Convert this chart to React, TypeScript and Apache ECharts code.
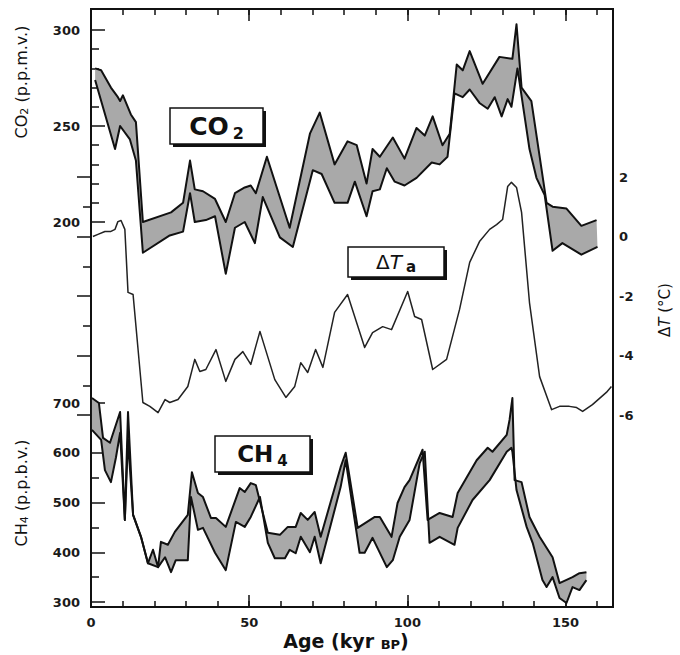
import React, { useEffect, useRef } from 'react';
import * as echarts from 'echarts';

// Age (kyr BP) axis
const ageMin = 0;
const ageMax = 165;

// CO2 envelope (p.p.m.v.): [age, value]
const co2Upper: number[][] = [
  [1.3, 280], [3.2, 279], [6.3, 270], [8.5, 265], [9.2, 263], [10.1, 266], [12.6, 256], [14.2, 252],
  [16.4, 200], [25.3, 205], [29.1, 210], [31.3, 232], [32.8, 217], [35.4, 216], [39.2, 212], [42.6, 200],
  [45.5, 215], [48.6, 218], [50.5, 219], [52.1, 215], [55.6, 234], [62.8, 197], [69.2, 246], [72.3, 257],
  [77.0, 230], [81.1, 242], [84.0, 240], [87.1, 220], [89.0, 238], [91.3, 234], [95.4, 244], [99.1, 233],
  [102.9, 249], [105.5, 245], [108.0, 255], [111.1, 240], [113.4, 246], [115.6, 282], [117.5, 279],
  [119.7, 289], [123.8, 272], [129.1, 286], [133.2, 285], [134.5, 303], [136.1, 270], [139.2, 263],
  [144.0, 210], [145.9, 208], [150.3, 207], [155.0, 198], [159.8, 201],
];
const co2Lower: number[][] = [
  [1.3, 274], [7.6, 238], [9.2, 250], [12.3, 243], [14.2, 232], [16.4, 184], [24.9, 193], [29.1, 195],
  [31.3, 215], [32.8, 200], [36.3, 201], [39.2, 203], [42.6, 173], [45.5, 197], [48.6, 200], [51.8, 189],
  [54.3, 213], [59.7, 192], [63.8, 187], [70.1, 227], [72.9, 225], [77.0, 210], [81.1, 210], [83.4, 221],
  [87.1, 203], [89.0, 216], [91.3, 217], [93.5, 228], [96.0, 221], [99.1, 219], [102.9, 223], [107.7, 231],
  [110.2, 230], [112.7, 234], [114.9, 267], [117.5, 265], [119.7, 269], [122.8, 262], [125.4, 259],
  [127.6, 265], [129.8, 255], [131.7, 264], [132.9, 260], [134.8, 280], [138.6, 238], [140.8, 223],
  [143.4, 214], [145.9, 185], [149.0, 189], [155.0, 183], [160.1, 187],
];

// Temperature change ΔT (°C): [age, value]
const tempDelta: number[][] = [
  [0.6, 0.0], [2.2, 0.07], [4.4, 0.17], [6.3, 0.17], [7.6, 0.24], [8.5, 0.5], [9.5, 0.54], [10.7, 0.24],
  [11.7, -1.88], [13.3, -1.95], [16.4, -5.58], [18.6, -5.71], [21.2, -5.92], [23.4, -5.48], [24.9, -5.58],
  [27.5, -5.48], [30.6, -5.04], [32.8, -4.13], [34.4, -4.54], [36.3, -4.47], [39.5, -3.8], [42.6, -4.87],
  [45.5, -4.13], [48.0, -3.87], [50.5, -4.3], [53.4, -3.19], [58.1, -4.81], [61.6, -5.41], [64.4, -5.04],
  [66.3, -4.24], [68.5, -4.57], [71.0, -3.8], [73.3, -4.4], [77.0, -2.55], [81.1, -1.95], [86.5, -3.73],
  [89.0, -3.23], [92.2, -3.03], [95.0, -3.13], [100.1, -1.85], [102.3, -2.69], [104.5, -2.79],
  [108.0, -4.47], [112.4, -4.13], [116.5, -2.45], [119.7, -0.87], [122.8, -0.17], [126.0, 0.24],
  [128.2, 0.4], [130.1, 0.57], [131.7, 1.68], [132.9, 1.82], [134.5, 1.65], [136.1, 0.81], [138.6, -2.22],
  [141.8, -4.71], [145.6, -5.82], [148.1, -5.71], [151.2, -5.71], [153.5, -5.75], [155.4, -5.88],
  [158.5, -5.65], [162.9, -5.24], [164.5, -5.04],
];

// CH4 envelope (p.p.b.v.): [age, value]
const ch4Upper: number[][] = [
  [0.3, 710], [2.5, 700], [3.8, 630], [6.0, 620], [9.2, 682], [10.7, 465], [11.7, 682], [13.3, 475],
  [15.8, 431], [18.0, 378], [19.6, 405], [21.2, 370], [22.1, 421], [24.3, 415], [26.5, 441], [30.6, 475],
  [31.9, 561], [33.8, 519], [35.4, 511], [37.9, 469], [39.5, 469], [42.6, 451], [47.0, 529], [48.6, 521],
  [50.5, 539], [52.1, 535], [55.9, 439], [59.7, 435], [62.2, 451], [64.7, 451], [66.3, 479], [68.5, 465],
  [70.7, 481], [72.6, 431], [78.9, 571], [80.5, 600], [84.3, 449], [89.7, 471], [91.3, 471], [95.0, 431],
  [96.9, 499], [99.1, 531], [100.7, 545], [104.8, 606], [106.4, 465], [110.2, 479], [114.3, 471],
  [115.9, 519], [121.9, 585], [125.4, 610], [126.9, 602], [131.4, 636], [132.3, 666], [133.2, 710],
  [133.9, 545], [136.1, 541], [138.6, 471], [141.8, 431], [145.9, 390], [148.1, 338], [152.2, 350],
  [154.4, 358], [156.6, 360],
];
const ch4Lower: number[][] = [
  [0.3, 646], [3.2, 626], [4.4, 565], [6.3, 541], [7.9, 591], [9.2, 640], [10.7, 465], [11.7, 626],
  [13.3, 475], [15.8, 431], [18.0, 378], [21.2, 370], [23.4, 390], [25.3, 360], [26.8, 384], [30.6, 384],
  [31.6, 511], [33.8, 445], [35.4, 449], [39.2, 399], [42.6, 364], [45.8, 461], [48.6, 451], [50.5, 471],
  [53.4, 511], [55.9, 419], [58.1, 388], [61.3, 388], [62.8, 405], [64.7, 398], [66.3, 431], [69.2, 400],
  [70.7, 431], [72.6, 378], [78.9, 531], [80.5, 585], [84.9, 399], [86.5, 399], [89.0, 429], [93.5, 370],
  [95.4, 384], [97.6, 431], [100.7, 465], [103.9, 579], [105.5, 602], [107.0, 419], [110.2, 431],
  [114.9, 415], [115.9, 449], [120.6, 505], [126.0, 545], [131.4, 602], [132.9, 610], [133.2, 602],
  [134.5, 525], [137.7, 451], [139.6, 419], [142.7, 344], [144.0, 330], [145.9, 350], [148.1, 308],
  [150.3, 298], [152.2, 330], [154.4, 324], [156.6, 344],
];

const INK = '#111';
const FONT = 'DejaVu Sans';

const tickLine = { color: INK, width: 1.5 };

function bandSeries(upper: number[][], lower: number[][], xi: number, yi: number) {
  return {
    type: 'custom',
    xAxisIndex: xi,
    yAxisIndex: yi,
    clip: false,
    silent: true,
    z: 1,
    data: [upper[0]],
    renderItem: (_params: any, api: any) => {
      const pts = upper
        .map((p) => api.coord(p))
        .concat(lower.slice().reverse().map((p) => api.coord(p)));
      return {
        type: 'polygon',
        shape: { points: pts },
        style: { fill: '#a9a9a9', stroke: 'none' },
      };
    },
  };
}

function lineSeries(data: number[][], xi: number, yi: number, width: number, color = INK) {
  return {
    type: 'line',
    xAxisIndex: xi,
    yAxisIndex: yi,
    data,
    symbol: 'none',
    clip: false,
    silent: true,
    z: 3,
    lineStyle: { color, width, join: 'round' },
  };
}

const hiddenX = (gridIndex: number) => ({
  type: 'value',
  gridIndex,
  min: ageMin,
  max: ageMax,
  show: false,
});

const labelStyle = { fontFamily: FONT, fontSize: 13, fontWeight: 'bold', color: '#1a1a1a' };

function frameX(position: string, interval: number, len: number, labels: boolean) {
  return {
    type: 'value',
    gridIndex: 0,
    position,
    min: ageMin,
    max: ageMax,
    interval,
    axisLine: { show: false },
    splitLine: { show: false },
    axisTick: { show: true, inside: true, length: len, lineStyle: tickLine },
    axisLabel: labels
      ? { show: true, showMaxLabel: false, margin: 9, ...labelStyle }
      : { show: false },
  };
}

function valueY(
  gridIndex: number,
  position: string,
  min: number,
  max: number,
  interval: number,
  minorSplit: number,
  margin: number,
) {
  return {
    type: 'value',
    gridIndex,
    position,
    min,
    max,
    interval,
    axisLine: { show: false },
    splitLine: { show: false },
    axisTick: { show: true, inside: true, length: 14, lineStyle: tickLine },
    minorTick: { show: true, splitNumber: minorSplit, length: 8, lineStyle: tickLine },
    axisLabel: { show: true, margin, ...labelStyle },
  };
}

function labelBox(x: number, y: number, w: number, h: number, text: string, rich: any, font: string) {
  return [
    { type: 'rect', shape: { x: x + 3, y: y + 3, width: w, height: h }, style: { fill: INK }, z: 10 },
    {
      type: 'rect',
      shape: { x, y, width: w, height: h },
      style: { fill: '#fff', stroke: INK, lineWidth: 1.5 },
      z: 11,
    },
    {
      type: 'text',
      x: x + w / 2,
      y: y + h / 2,
      z: 12,
      style: {
        text,
        font,
        fill: INK,
        align: 'center',
        verticalAlign: 'middle',
        rich,
      },
    },
  ];
}

export default function App() {
  const ref = useRef<HTMLDivElement>(null);

  useEffect(() => {
    document.body.style.margin = '0';
    const chart = echarts.init(ref.current!, null, { renderer: 'svg' });

    const L = 91;
    const W = 522;

    const option: any = {
      animation: false,
      grid: [
        { left: L, width: W, top: 9, height: 598, show: true, borderColor: INK, borderWidth: 2, backgroundColor: 'transparent' },
        { left: L, width: W, top: 30, height: 192 },
        { left: L, width: W, top: 177, height: 238 },
        { left: L, width: W, top: 403, height: 199 },
      ],
      xAxis: [
        frameX('bottom', 10, 6, false),
        frameX('bottom', 50, 12, true),
        frameX('top', 10, 6, false),
        frameX('top', 50, 12, false),
        hiddenX(1),
        hiddenX(2),
        hiddenX(3),
      ],
      yAxis: [
        { type: 'value', gridIndex: 0, min: 0, max: 1, show: false },
        valueY(1, 'left', 200, 300, 50, 5, 11),
        valueY(2, 'right', -6, 2, 2, 2, 6),
        valueY(3, 'left', 300, 700, 100, 2, 11),
      ],
      series: [
        bandSeries(co2Upper, co2Lower, 4, 1),
        lineSeries(co2Upper, 4, 1, 2),
        lineSeries(co2Lower, 4, 1, 2),
        lineSeries(tempDelta, 5, 2, 1.5, '#222'),
        bandSeries(ch4Upper, ch4Lower, 6, 3),
        lineSeries(ch4Upper, 6, 3, 2),
        lineSeries(ch4Lower, 6, 3, 2),
      ],
      graphic: [
        {
          type: 'text',
          x: 21,
          y: 82,
          rotation: Math.PI / 2,
          style: {
            text: 'CO{s|2} (p.p.m.v.)',
            font: `16px "${FONT}"`,
            fill: INK,
            align: 'center',
            verticalAlign: 'middle',
            rich: { s: { fontSize: 11, fontFamily: FONT, verticalAlign: 'bottom', padding: [7, 0, 0, 0] } },
          },
        },
        {
          type: 'text',
          x: 21,
          y: 493,
          rotation: Math.PI / 2,
          style: {
            text: 'CH{s|4} (p.p.b.v.)',
            font: `16px "${FONT}"`,
            fill: INK,
            align: 'center',
            verticalAlign: 'middle',
            rich: { s: { fontSize: 11, fontFamily: FONT, verticalAlign: 'bottom', padding: [7, 0, 0, 0] } },
          },
        },
        {
          type: 'text',
          x: 665,
          y: 310,
          rotation: Math.PI / 2,
          style: {
            text: 'Δ{i|T} (°C)',
            font: `15px "${FONT}"`,
            fill: INK,
            align: 'center',
            verticalAlign: 'middle',
            rich: { i: { fontSize: 15, fontFamily: FONT, fontStyle: 'italic' } },
          },
        },
        {
          type: 'text',
          x: 346,
          y: 641,
          style: {
            text: 'Age (kyr {s|BP})',
            font: `bold 19px "${FONT}"`,
            fill: INK,
            align: 'center',
            verticalAlign: 'middle',
            rich: { s: { fontSize: 13, fontWeight: 'bold', fontFamily: FONT, verticalAlign: 'bottom' } },
          },
        },
        ...labelBox(170, 108, 93, 36, 'CO{s|2}', {
          s: { fontSize: 16, fontWeight: 'bold', fontFamily: FONT, verticalAlign: 'bottom', padding: [14, 0, 0, 4] },
        }, `bold 25px "${FONT}"`),
        ...labelBox(348, 247, 96, 30, 'Δ{i|T}{s|a}', {
          i: { fontSize: 20, fontStyle: 'italic', fontFamily: FONT },
          s: { fontSize: 15, fontWeight: 'bold', fontFamily: FONT, verticalAlign: 'bottom', padding: [10, 0, 0, 4] },
        }, `20px "${FONT}"`),
        ...labelBox(215, 436, 95, 36, 'CH{s|4}', {
          s: { fontSize: 15, fontWeight: 'bold', fontFamily: FONT, verticalAlign: 'bottom', padding: [14, 0, 0, 4] },
        }, `bold 23px "${FONT}"`),
      ],
    };

    chart.setOption(option);
    return () => chart.dispose();
  }, []);

  return <div ref={ref} style={{ width: 680, height: 655 }} />;
}
